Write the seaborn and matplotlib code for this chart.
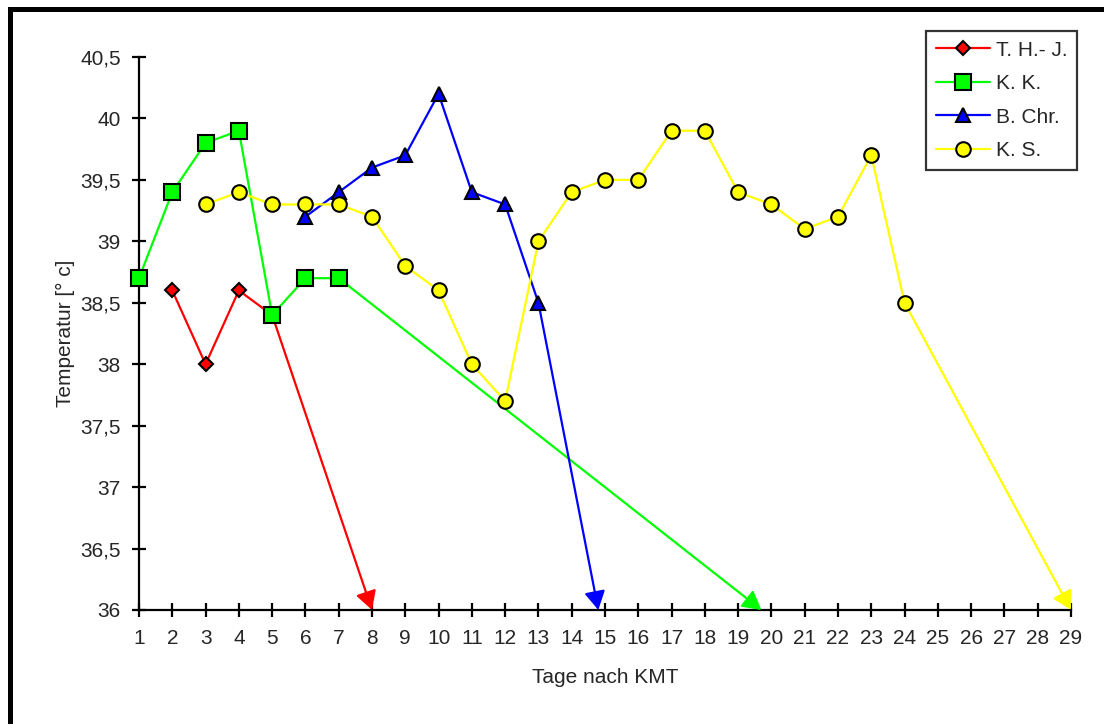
import pandas as pd
import matplotlib.pyplot as plt
import seaborn as sns
from matplotlib.lines import Line2D

# Data
days = list(range(1, 30))

thj_x = [2, 3, 4, 5]
thj_y = [38.6, 38.0, 38.6, 38.4]

kk_x = [1, 2, 3, 4, 5, 6, 7]
kk_y = [38.7, 39.4, 39.8, 39.9, 38.4, 38.7, 38.7]

bchr_x = [6, 7, 8, 9, 10, 11, 12, 13]
bchr_y = [39.2, 39.4, 39.6, 39.7, 40.2, 39.4, 39.3, 38.5]

ks_x = [3, 4, 5, 6, 7, 8, 9, 10, 11, 12, 13, 14, 15, 16, 17, 18, 19, 20, 21, 22, 23, 24]
ks_y = [39.3, 39.4, 39.3, 39.3, 39.3, 39.2, 38.8, 38.6, 38.0, 37.7, 39.0, 39.4,
        39.5, 39.5, 39.9, 39.9, 39.4, 39.3, 39.1, 39.2, 39.7, 38.5]

# where each series' arrow ends
arrow_end_x = [8.0, 19.7, 14.8, 29.0]
arrow_end_y = [36.0, 36.0, 36.0, 36.0]

names = ['T. H.- J.', 'K. K.', 'B. Chr.', 'K. S.']
y_ticks = [36, 36.5, 37, 37.5, 38, 38.5, 39, 39.5, 40, 40.5]
y_tick_labels = ['36', '36,5', '37', '37,5', '38', '38,5', '39', '39,5', '40', '40,5']

sns.set_style("white")
plt.rcParams['font.family'] = ['Liberation Sans', 'DejaVu Sans']
plt.rcParams['font.size'] = 15

series = [(thj_x, thj_y), (kk_x, kk_y), (bchr_x, bchr_y), (ks_x, ks_y)]
colors = ['#ff0000', '#00ff00', '#0000ff', '#ffff00']
markers = ['D', 's', '^', 'o']
msizes = [7.5, 11, 10.5, 10.5]

fig = plt.figure(figsize=(11.04, 7.24), dpi=100)
ax = fig.add_axes([0.1259, 0.1575, 0.9701 - 0.1259, 0.9213 - 0.1575])

for i, (xs, ys) in enumerate(series):
    d = pd.DataFrame({'Tag': xs, 'Temp': ys})
    sns.lineplot(data=d, x='Tag', y='Temp', ax=ax, color=colors[i], lw=1.6,
                 marker=markers[i], markersize=msizes[i], markeredgecolor='black',
                 markeredgewidth=1.5, markerfacecolor=colors[i], label=names[i],
                 zorder=3 + i, clip_on=False)
    ax.annotate('', xy=(arrow_end_x[i], arrow_end_y[i]), xytext=(xs[-1], ys[-1]),
                arrowprops=dict(arrowstyle='-|>,head_length=0.75,head_width=0.42',
                                mutation_scale=15, lw=1.6, color=colors[i],
                                shrinkA=0, shrinkB=0),
                zorder=2 + i)

ax.set_xlim(1, 29)
ax.set_ylim(36, 40.5)
ax.set_xticks(days)
ax.set_xticklabels([str(d) for d in days])
ax.set_yticks(y_ticks)
ax.set_yticklabels(y_tick_labels)
ax.set_xlabel('Tage nach KMT', fontsize=15, labelpad=14)
ax.set_ylabel('Temperatur [° c]', fontsize=15, labelpad=4)

for s in ['top', 'right']:
    ax.spines[s].set_visible(False)
for s in ['left', 'bottom']:
    ax.spines[s].set_linewidth(1.6)
    ax.spines[s].set_color('black')
ax.tick_params(axis='both', direction='inout', length=10, width=1.6,
               color='black', labelsize=15, bottom=True, left=True)
ax.tick_params(axis='x', pad=9)
ax.tick_params(axis='y', pad=8)
ax.grid(False)

leg = ax.legend(loc='upper right', bbox_to_anchor=(0.9755, 0.957),
                bbox_transform=fig.transFigure, fancybox=False, frameon=True,
                edgecolor='black', fontsize=15, handlelength=2.6,
                handletextpad=0.3, borderpad=0.45, labelspacing=0.7,
                borderaxespad=0)
leg.get_frame().set_linewidth(1.6)

# thick frame at top and left of the picture
fig.add_artist(Line2D([9.5 / 1104, 9.5 / 1104, 1.0], [0.0, 1 - 9 / 724, 1 - 9 / 724],
                      transform=fig.transFigure, color='black', lw=3.6,
                      solid_joinstyle='miter'))

fig.savefig('out.png', dpi=100, facecolor='white')
